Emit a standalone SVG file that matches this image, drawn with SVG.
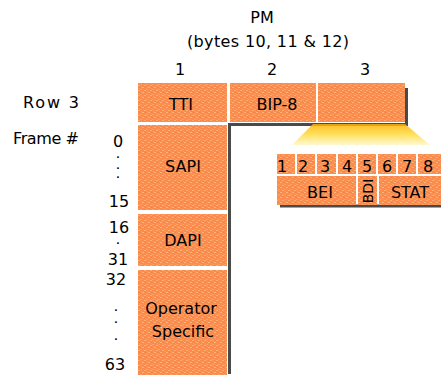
<svg xmlns="http://www.w3.org/2000/svg" width="441" height="377" viewBox="0 0 441 377">
<style>
text{font-family:"DejaVu Sans","Liberation Sans",sans-serif;font-size:16px;fill:#000}
.m{text-anchor:middle}
.d{font-size:9px;font-weight:bold}
.box{fill:url(#tex)}
.shadow{fill:none;stroke:#4a4a4a;stroke-width:3}
</style>
<defs>
<pattern id="tex" patternUnits="userSpaceOnUse" x="0" y="0" width="6" height="5">
<rect width="6" height="5" fill="#f98b4f"/>
<rect x="0" y="0" width="2" height="1" fill="#ffae6e"/>
<rect x="3" y="1" width="1" height="1" fill="#f4a080"/>
<rect x="4" y="2" width="2" height="1" fill="#ffb478"/>
<rect x="1" y="3" width="1" height="1" fill="#f39a86"/>
<rect x="2" y="4" width="2" height="1" fill="#ffa060"/>
<rect x="5" y="4" width="1" height="1" fill="#f3936e"/>
<rect x="1" y="2" width="1" height="1" fill="#ff7e3a"/>
</pattern>
<linearGradient id="fan" x1="0" y1="0" x2="0" y2="1">
<stop offset="0" stop-color="#ffb000"/>
<stop offset="0.45" stop-color="#ffd838"/>
<stop offset="1" stop-color="#fff8c8"/>
</linearGradient>
</defs>
<rect width="441" height="377" fill="#fff"/>

<!-- headings -->
<text class="m" x="262" y="23">PM</text>
<text class="m" x="268" y="47" textLength="162" lengthAdjust="spacing">(bytes 10, 11 &amp; 12)</text>
<text class="m" x="180" y="75">1</text>
<text class="m" x="272" y="75">2</text>
<text class="m" x="365" y="75">3</text>
<text x="23" y="108" textLength="56" lengthAdjust="spacing">Row 3</text>
<text x="13" y="144" textLength="66" lengthAdjust="spacing">Frame #</text>

<!-- frame numbers -->
<g id="frame-numbers">
<text class="m" x="118" y="147">0</text>
<text class="m d" x="118" y="158">.</text>
<text class="m d" x="118" y="169">.</text>
<text class="m d" x="118" y="178">.</text>
<text class="m" x="119" y="207">15</text>
<text class="m" x="119" y="233">16</text>
<text class="m d" x="118" y="244">.</text>
<text class="m" x="118" y="265">31</text>
<text class="m" x="116" y="285">32</text>
<text class="m d" x="116" y="311">.</text>
<text class="m d" x="116" y="323">.</text>
<text class="m d" x="116" y="340">.</text>
<text class="m" x="115" y="370">63</text>
</g>

<!-- shadows -->
<path class="shadow" d="M229.5 374 V124.5 H406.5 V88"/>
<path class="shadow" d="M280 206 H441"/>

<!-- connector: expansion fan from byte 3 -->
<g id="connectors">
<polygon points="313,124 405,124 430,145 292,145" fill="url(#fan)" opacity="0.85"/>
</g>

<g id="tti"><rect class="box" x="138" y="83" width="89" height="39"/><text class="m" x="181" y="110">TTI</text></g>
<g id="bip8"><rect class="box" x="230" y="83" width="86" height="39"/><text class="m" x="277" y="110">BIP-8</text></g>
<g id="byte3"><rect class="box" x="318" y="83" width="87" height="39"/></g>

<g id="sapi"><rect class="box" x="138" y="125" width="89" height="85"/><text class="m" x="183" y="172">SAPI</text></g>
<g id="dapi"><rect class="box" x="138" y="214" width="89" height="52"/><text class="m" x="183" y="246">DAPI</text></g>
<g id="operator"><rect class="box" x="138" y="270" width="89" height="105"/><text class="m" x="181" y="314">Operator</text><text class="m" x="183" y="337">Specific</text></g>

<g id="bit1"><rect class="box" x="277" y="154" width="18" height="20"/><text class="m" x="282" y="172">1</text></g>
<g id="bit2"><rect class="box" x="297" y="154" width="18" height="20"/><text class="m" x="303" y="172">2</text></g>
<g id="bit3"><rect class="box" x="317" y="154" width="19" height="20"/><text class="m" x="325" y="172">3</text></g>
<g id="bit4"><rect class="box" x="338" y="154" width="18" height="20"/><text class="m" x="347" y="172">4</text></g>
<g id="bit5"><rect class="box" x="358" y="154" width="18" height="20"/><text class="m" x="367" y="172">5</text></g>
<g id="bit6"><rect class="box" x="378" y="154" width="18" height="20"/><text class="m" x="387" y="172">6</text></g>
<g id="bit7"><rect class="box" x="398" y="154" width="18" height="20"/><text class="m" x="407" y="172">7</text></g>
<g id="bit8"><rect class="box" x="418" y="154" width="23" height="20"/><text class="m" x="428" y="172">8</text></g>

<g id="bei"><rect class="box" x="277" y="176" width="79" height="29"/><text class="m" x="320" y="198">BEI</text></g>
<g id="bdi"><rect class="box" x="358" y="176" width="19" height="29"/><text class="m" transform="translate(372.5 191) rotate(-90)" style="font-size:14px">BDI</text></g>
<g id="stat"><rect class="box" x="379" y="176" width="62" height="29"/><text class="m" x="410" y="198">STAT</text></g>
</svg>
